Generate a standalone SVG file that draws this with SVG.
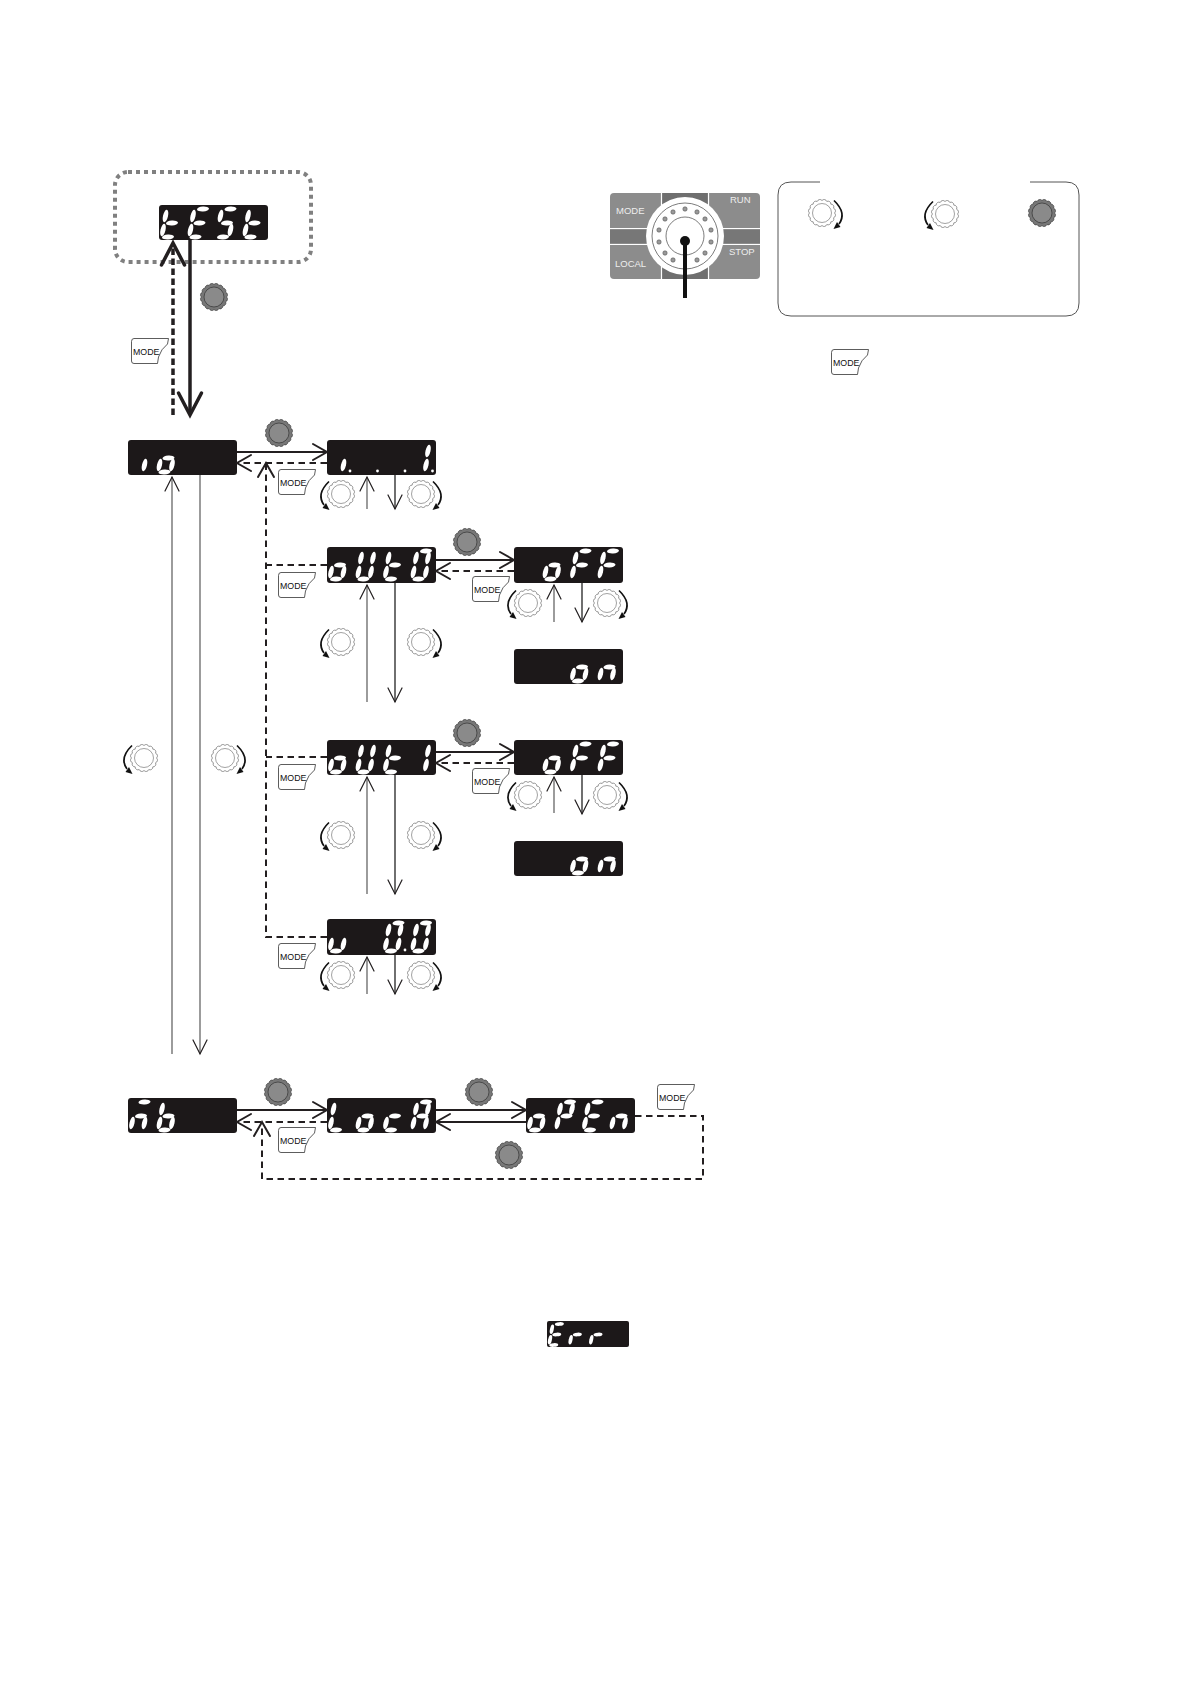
<svg xmlns="http://www.w3.org/2000/svg" width="1191" height="1684" viewBox="0 0 1191 1684">
<style>
.disp{fill:#1c1819}
.seg{fill:#fff}
.c{fill:none;stroke:#231f20;stroke-width:2}
.d{stroke-dasharray:6.5 4.5}
.t{fill:none;stroke:#666;stroke-width:1.3}
.k{fill:none;stroke:#222;stroke-width:1.3}
.th{fill:none;stroke:#231f20;stroke-width:3.5}
.mk{fill:none;stroke:#231f20;stroke-linecap:round}
.gearo{fill:#fff;stroke:#333;stroke-width:.5}
.gearf{fill:#777;stroke:#444;stroke-width:.8}
.lab{font-family:"Liberation Sans",Arial,sans-serif}
.pl{font-family:"Liberation Sans",Arial,sans-serif;font-size:9.5px;fill:#eee}
</style>
<defs>
<marker id="m2" markerUnits="userSpaceOnUse" markerWidth="16" markerHeight="18" refX="0" refY="0" orient="auto" overflow="visible"><path class="mk" stroke-width="2" d="M-14,-8 L0,0 L-14,8"/></marker>
<marker id="m1" markerUnits="userSpaceOnUse" markerWidth="16" markerHeight="16" refX="0" refY="0" orient="auto" overflow="visible"><path class="mk" stroke-width="1.2" d="M-14,-7 L0,0 L-14,7"/></marker>
<marker id="m3" markerUnits="userSpaceOnUse" markerWidth="24" markerHeight="26" refX="0" refY="0" orient="auto" overflow="visible"><path class="mk" stroke-width="3.5" stroke-linecap="butt" d="M-22,-11.5 L0,0 L-22,11.5"/></marker>
<ellipse id="sh" class="seg" rx="6" ry="2.5" transform="rotate(-4)"/>
<ellipse id="sv" class="seg" rx="2.5" ry="6.4" transform="rotate(13)"/>
<use id="T" href="#sh" x="4.5" y="-14"/>
<use id="M" href="#sh" x="1" y="0"/>
<use id="B" href="#sh" x="-3" y="14"/>
<use id="UL" href="#sv" x="-5.5" y="-7"/>
<use id="UR" href="#sv" x="6.5" y="-7"/>
<use id="LL" href="#sv" x="-8" y="7"/>
<use id="LR" href="#sv" x="4.500" y="7"/>
<circle id="dot" class="seg" cx="11" cy="13" r="1.4"/>
<g id="g-t"><use href="#UL"/><use href="#M"/><use href="#LL"/><use href="#B"/></g>
<g id="g-E"><use href="#T"/><use href="#UL"/><use href="#M"/><use href="#LL"/><use href="#B"/></g>
<g id="g-S"><use href="#T"/><use href="#UL"/><use href="#M"/><use href="#LR"/><use href="#B"/></g>
<g id="g-o"><use href="#M"/><use href="#LL"/><use href="#LR"/><use href="#B"/></g>
<g id="g-i"><use href="#LR"/></g>
<g id="g-1"><use href="#UR"/><use href="#LR"/></g>
<g id="g-U"><use href="#UL"/><use href="#UR"/><use href="#LL"/><use href="#LR"/><use href="#B"/></g>
<g id="g-u"><use href="#LL"/><use href="#LR"/><use href="#B"/></g>
<g id="g-0"><use href="#T"/><use href="#UL"/><use href="#UR"/><use href="#LL"/><use href="#LR"/><use href="#B"/></g>
<g id="g-F"><use href="#T"/><use href="#UL"/><use href="#M"/><use href="#LL"/></g>
<g id="g-n"><use href="#M"/><use href="#LL"/><use href="#LR"/></g>
<g id="g-m"><use href="#T"/><use href="#M"/><use href="#LL"/><use href="#LR"/></g>
<g id="g-b"><use href="#UL"/><use href="#M"/><use href="#LL"/><use href="#LR"/><use href="#B"/></g>
<g id="g-L"><use href="#UL"/><use href="#LL"/><use href="#B"/></g>
<g id="g-c"><use href="#M"/><use href="#LL"/><use href="#B"/></g>
<g id="g-A"><use href="#T"/><use href="#UL"/><use href="#UR"/><use href="#M"/><use href="#LL"/><use href="#LR"/></g>
<g id="g-P"><use href="#T"/><use href="#UL"/><use href="#UR"/><use href="#M"/><use href="#LL"/></g>
<g id="g-r"><use href="#M"/><use href="#LL"/></g>
<path id="gear" d="M12.5 0A2.8 2.8 0 0 1 11.55 4.78A2.8 2.8 0 0 1 8.84 8.84A2.8 2.8 0 0 1 4.78 11.55A2.8 2.8 0 0 1 0 12.5A2.8 2.8 0 0 1 -4.78 11.55A2.8 2.8 0 0 1 -8.84 8.84A2.8 2.8 0 0 1 -11.55 4.78A2.8 2.8 0 0 1 -12.5 0A2.8 2.8 0 0 1 -11.55 -4.78A2.8 2.8 0 0 1 -8.84 -8.84A2.8 2.8 0 0 1 -4.78 -11.55A2.8 2.8 0 0 1 0 -12.5A2.8 2.8 0 0 1 4.78 -11.55A2.8 2.8 0 0 1 8.84 -8.84A2.8 2.8 0 0 1 11.55 -4.78A2.8 2.8 0 0 1 12.5 0Z"/>
<g id="dial-f"><use href="#gear" class="gearf"/><circle r="10" fill="#8a8a8a" stroke="#333" stroke-width=".7"/></g>
<g id="dial-o"><use href="#gear" class="gearo"/><circle r="9.5" fill="#fff" stroke="#444" stroke-width=".5"/></g>
<g id="dial-cw"><use href="#dial-o"/><path d="M12 -12.500Q25 0 17 11" fill="none" stroke="#111" stroke-width="1.7"/><path d="M11.500 16L18.500 14L15 9Z" fill="#111"/></g>
<g id="dial-ccw"><use href="#dial-o"/><path d="M-12 -12.500Q-25 0 -17 11" fill="none" stroke="#111" stroke-width="1.7"/><path d="M-11.500 16L-18.500 14L-15 9Z" fill="#111"/></g>
<g id="mode"><path d="M3 .5H37.5L36.5 6Q30 11 27.5 19L26.5 25.5H3Q.5 25.500 .5 23V3.5Q.5 .5 3 .5Z" fill="#fff" stroke="#333" stroke-width=".8"/><text class="lab" x="2" y="17" font-size="8.8" fill="#111">MODE</text></g>
</defs>
<rect width="1191" height="1684" fill="#fff"/>

<g id="node-test">
<rect x="115" y="172" width="196" height="90" rx="13" fill="none" stroke="#808080" stroke-width="4" stroke-dasharray="4 4"/>
<rect class="disp" x="159" y="205" width="109" height="35" rx="3"/>
<use href="#g-t" x="171" y="223"/><use href="#g-E" x="198.5" y="223"/><use href="#g-S" x="226" y="223"/><use href="#g-t" x="253.5" y="223"/>
</g>
<g id="node-io"><rect class="disp" x="128" y="440" width="109" height="35" rx="3"/><use href="#g-i" x="140" y="458"/><use href="#g-o" x="167.5" y="458"/></g>
<g id="node-i1"><rect class="disp" x="327" y="440" width="109" height="35" rx="3"/>
<use href="#g-i" x="339" y="458"/><use href="#dot" x="339" y="458"/><use href="#dot" x="366.5" y="458"/><use href="#dot" x="394" y="458"/><use href="#g-1" x="421.5" y="458"/><use href="#dot" x="421.5" y="458"/></g>
<g id="node-out0"><rect class="disp" x="327" y="547" width="109" height="36" rx="3"/><use href="#g-o" x="339" y="565"/><use href="#g-U" x="366.5" y="565"/><use href="#g-t" x="394" y="565"/><use href="#g-0" x="421.5" y="565"/></g>
<g id="node-off0"><rect class="disp" x="514" y="547" width="109" height="36" rx="3"/><use href="#g-o" x="553.5" y="565"/><use href="#g-F" x="581" y="565"/><use href="#g-F" x="608.5" y="565"/></g>
<g id="node-on0"><rect class="disp" x="514" y="649" width="109" height="35" rx="3"/><use href="#g-o" x="581" y="667"/><use href="#g-n" x="608.5" y="667"/></g>
<g id="node-out1"><rect class="disp" x="327" y="740" width="109" height="35" rx="3"/><use href="#g-o" x="339" y="758"/><use href="#g-U" x="366.5" y="758"/><use href="#g-t" x="394" y="758"/><use href="#g-1" x="421.5" y="758"/></g>
<g id="node-off1"><rect class="disp" x="514" y="740" width="109" height="35" rx="3"/><use href="#g-o" x="553.5" y="758"/><use href="#g-F" x="581" y="758"/><use href="#g-F" x="608.5" y="758"/></g>
<g id="node-on1"><rect class="disp" x="514" y="841" width="109" height="35" rx="3"/><use href="#g-o" x="581" y="859"/><use href="#g-n" x="608.5" y="859"/></g>
<g id="node-u00"><rect class="disp" x="327" y="919" width="109" height="36" rx="3"/><use href="#g-u" x="339" y="937"/><use href="#g-0" x="394" y="937"/><use href="#dot" x="394" y="937"/><use href="#g-0" x="421.5" y="937"/></g>
<g id="node-nb"><rect class="disp" x="128" y="1098" width="109" height="35" rx="3"/><use href="#g-m" x="140" y="1116"/><use href="#g-b" x="167.5" y="1116"/></g>
<g id="node-lock"><rect class="disp" x="327" y="1098" width="109" height="35" rx="3"/><use href="#g-L" x="339" y="1116"/><use href="#g-o" x="366.5" y="1116"/><use href="#g-c" x="394" y="1116"/><use href="#g-A" x="421.5" y="1116"/></g>
<g id="node-open"><rect class="disp" x="526" y="1098" width="109" height="35" rx="3"/><use href="#g-o" x="538" y="1116"/><use href="#g-P" x="565.5" y="1116"/><use href="#g-E" x="593" y="1116"/><use href="#g-n" x="620.5" y="1116"/></g>
<g id="node-err"><rect class="disp" x="547" y="1321" width="82" height="26" rx="2"/><g transform="translate(556 1334.5) scale(.75)"><use href="#g-E"/><use href="#g-r" x="27.5"/><use href="#g-r" x="55"/></g></g>

<g id="node-panel">
<rect x="610" y="193" width="150" height="86" rx="4" fill="#8c8c8c"/>
<rect x="610" y="230" width="150" height="13" fill="#777"/>
<rect x="662" y="193" width="46" height="86" fill="#6f6f6f"/>
<path d="M661.5 193V228.500H610M708.500 193V228.500H760M661.500 279V244.500H610M708.500 279V244.500H760" fill="none" stroke="#fff" stroke-width="1.2"/>
<circle cx="685" cy="236" r="39" fill="#fff"/>
<circle cx="685" cy="236" r="33" fill="#fff" stroke="#444" stroke-width=".7"/>
<circle cx="685" cy="236" r="19" fill="#fff" stroke="#444" stroke-width=".7"/>
<g fill="#999" stroke="#444" stroke-width=".5">
<circle cx="685" cy="209" r="2.200"/><circle cx="697" cy="212" r="2.200"/><circle cx="705" cy="219" r="2.200"/><circle cx="711" cy="230" r="2.200"/><circle cx="711" cy="242" r="2.200"/><circle cx="705" cy="253" r="2.200"/><circle cx="697" cy="260" r="2.200"/><circle cx="673" cy="260" r="2.200"/><circle cx="665" cy="253" r="2.200"/><circle cx="659" cy="242" r="2.200"/><circle cx="659" cy="230" r="2.200"/><circle cx="665" cy="219" r="2.200"/><circle cx="673" cy="212" r="2.200"/>
</g>
<text class="pl" x="616" y="214">MODE</text><text class="pl" x="730" y="203">RUN</text><text class="pl" x="615" y="267">LOCAL</text><text class="pl" x="729" y="255">STOP</text>
<circle cx="685" cy="241" r="5" fill="#111"/>
<line x1="685" y1="241" x2="685" y2="298" stroke="#111" stroke-width="4"/>
</g>

<g id="node-legend">
<path d="M820 182H791Q778 182 778 195V303Q778 316 791 316H1066Q1079 316 1079 303V195Q1079 182 1066 182H1030" fill="none" stroke="#555" stroke-width="1"/>
<use href="#dial-cw" x="822" y="213"/><use href="#dial-ccw" x="945" y="214"/><use href="#dial-f" x="1042" y="213"/>
</g>

<g id="dials">
<use href="#dial-f" x="214" y="297"/><use href="#dial-f" x="279" y="433"/><use href="#dial-f" x="467" y="542"/><use href="#dial-f" x="467" y="733"/><use href="#dial-f" x="278" y="1092"/><use href="#dial-f" x="479" y="1092"/><use href="#dial-f" x="509" y="1155"/>
<use href="#dial-ccw" x="341" y="494"/><use href="#dial-cw" x="421" y="494"/>
<use href="#dial-ccw" x="528" y="603"/><use href="#dial-cw" x="607" y="603"/>
<use href="#dial-ccw" x="341" y="642"/><use href="#dial-cw" x="421" y="642"/>
<use href="#dial-ccw" x="528" y="795"/><use href="#dial-cw" x="607" y="795"/>
<use href="#dial-ccw" x="341" y="835"/><use href="#dial-cw" x="421" y="835"/>
<use href="#dial-ccw" x="341" y="975"/><use href="#dial-cw" x="421" y="975"/>
<use href="#dial-ccw" x="144" y="758"/><use href="#dial-cw" x="225" y="758"/>
</g>

<g id="mode-keys">
<use href="#mode" x="131" y="338"/><use href="#mode" x="831" y="349"/><use href="#mode" x="278" y="469"/><use href="#mode" x="278" y="572"/><use href="#mode" x="472" y="576"/><use href="#mode" x="278" y="764"/><use href="#mode" x="472" y="768"/><use href="#mode" x="278" y="943"/><use href="#mode" x="278" y="1127"/><use href="#mode" x="657" y="1084"/>
</g>

<g id="connectors">
<path class="th" d="M173 415V243" stroke-dasharray="6.500 3.500" marker-end="url(#m3)"/>
<path class="th" d="M190 240V415" marker-end="url(#m3)"/>
<path class="c" d="M237 452H327" marker-end="url(#m2)"/>
<path class="c d" d="M327 463H237" marker-end="url(#m2)"/>
<path class="c d" d="M327 937H266V463" marker-end="url(#m2)"/>
<path class="c d" d="M327 565H266"/>
<path class="c d" d="M327 757H266"/>
<path class="c" d="M436 560H514" marker-end="url(#m2)"/>
<path class="c d" d="M514 571H436" marker-end="url(#m2)"/>
<path class="c" d="M436 752H514" marker-end="url(#m2)"/>
<path class="c d" d="M514 763H436" marker-end="url(#m2)"/>
<path class="c" d="M237 1110H327" marker-end="url(#m2)"/>
<path class="c d" d="M327 1122H237" marker-end="url(#m2)"/>
<path class="c" d="M436 1110H526" marker-end="url(#m2)"/>
<path class="c" d="M526 1122H436" marker-end="url(#m2)"/>
<path class="c d" d="M635 1116H703V1179H262V1122" marker-end="url(#m2)"/>
<path class="t" d="M172 1054V477" marker-end="url(#m1)"/>
<path class="t" d="M200 475V1054" marker-end="url(#m1)"/>
<path class="t" d="M367 509V477" marker-end="url(#m1)"/>
<path class="k" d="M395 475V509" marker-end="url(#m1)"/>
<path class="t" d="M367 702V585" marker-end="url(#m1)"/>
<path class="k" d="M395 583V702" marker-end="url(#m1)"/>
<path class="t" d="M554 622V585" marker-end="url(#m1)"/>
<path class="k" d="M582 583V622" marker-end="url(#m1)"/>
<path class="t" d="M367 894V777" marker-end="url(#m1)"/>
<path class="k" d="M395 775V894" marker-end="url(#m1)"/>
<path class="t" d="M554 813V777" marker-end="url(#m1)"/>
<path class="k" d="M582 775V814" marker-end="url(#m1)"/>
<path class="t" d="M367 994V957" marker-end="url(#m1)"/>
<path class="k" d="M395 955V994" marker-end="url(#m1)"/>
</g>
</svg>
